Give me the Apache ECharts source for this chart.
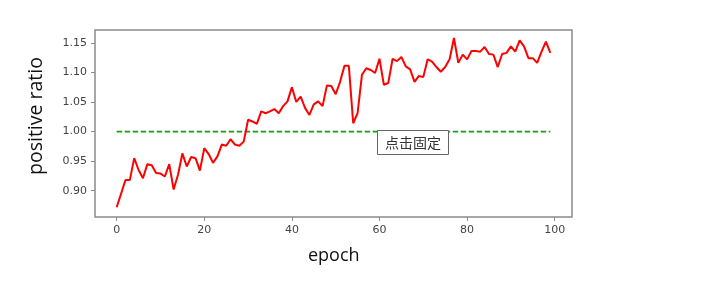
<!DOCTYPE html>
<html>
<head>
<meta charset="utf-8">
<script src="https://cdn.jsdelivr.net/npm/echarts@6/dist/echarts.min.js"></script>
<style>html,body{margin:0;padding:0;background:#fff;}#c{width:702px;height:284px;}</style>
</head>
<body>
<div id="c"></div>
<script>
const epochs = Array.from({length: 100}, (_, i) => i);
const positiveRatio = [
  0.872, 0.895, 0.918, 0.918, 0.955, 0.935, 0.921, 0.945, 0.943, 0.930,
  0.929, 0.924, 0.945, 0.902, 0.927, 0.963, 0.941, 0.957, 0.955, 0.934,
  0.972, 0.962, 0.947, 0.958, 0.978, 0.976, 0.987, 0.978, 0.976, 0.983,
  1.020, 1.017, 1.013, 1.034, 1.031, 1.034, 1.038, 1.031, 1.043, 1.051,
  1.075, 1.050, 1.059, 1.040, 1.028, 1.046, 1.051, 1.043, 1.078, 1.077,
  1.063, 1.084, 1.111, 1.111, 1.014, 1.031, 1.096, 1.107, 1.104, 1.099,
  1.123, 1.079, 1.082, 1.123, 1.119, 1.126, 1.110, 1.105, 1.084, 1.094,
  1.092, 1.122, 1.118, 1.109, 1.101, 1.109, 1.122, 1.158, 1.116, 1.130,
  1.122, 1.136, 1.136, 1.135, 1.143, 1.131, 1.130, 1.109, 1.131, 1.133,
  1.144, 1.135, 1.154, 1.144, 1.124, 1.124, 1.116, 1.135, 1.152, 1.133
];
const referenceLevel = 1.0;
const xTicks = [0, 20, 40, 60, 80, 100];
const yTicks = [0.90, 0.95, 1.00, 1.05, 1.10, 1.15];
const xLabel = 'epoch';
const yLabel = 'positive ratio';
const tipText = '点击固定';

const chart = echarts.init(document.getElementById('c'), null, {renderer: 'canvas'});
const frame = '#8a8a8a';
const tickFont = {color: '#444', fontSize: 11, fontFamily: 'DejaVu Sans'};
chart.setOption({
  animation: false,
  backgroundColor: '#fff',
  grid: {left: 95, right: 130, top: 30, bottom: 67, show: true, borderColor: frame, borderWidth: 1.5, backgroundColor: 'transparent'},
  xAxis: {
    type: 'value', min: -4.95, max: 103.95,
    axisLine: {show: false, onZero: false},
    splitLine: {show: false},
    axisTick: {show: true, customValues: xTicks, length: 4, lineStyle: {color: frame, width: 1}},
    axisLabel: Object.assign({customValues: xTicks, margin: 8, formatter: v => String(Math.round(v))}, tickFont)
  },
  yAxis: {
    type: 'value', min: 0.8556, max: 1.1716,
    axisLine: {show: false, onZero: false},
    splitLine: {show: false},
    axisTick: {show: true, customValues: yTicks, length: 4, lineStyle: {color: frame, width: 1}},
    axisLabel: Object.assign({customValues: yTicks, margin: 8, formatter: v => v.toFixed(2)}, tickFont)
  },
  series: [
    {
      type: 'line', name: 'ratio',
      data: epochs.map((e, i) => [e, positiveRatio[i]]),
      showSymbol: false, symbol: 'none',
      lineStyle: {color: '#ff0000', width: 2},
      z: 3
    },
    {
      type: 'line', name: 'ref',
      data: [[epochs[0], referenceLevel], [epochs[epochs.length - 1], referenceLevel]],
      showSymbol: false, symbol: 'none',
      lineStyle: {color: '#1f9a1f', width: 1.8, type: [5.5, 2.5]},
      z: 2
    }
  ],
  graphic: [
    {type: 'text', left: 308, top: 247, style: {text: xLabel, fontSize: 18, fontFamily: 'Open Sans', fill: '#111'}},
    {type: 'text', x: 36, y: 116, rotation: Math.PI / 2, style: {text: yLabel, fontSize: 19.5, fontFamily: 'Open Sans', fill: '#111', align: 'center', verticalAlign: 'middle'}},
    {type: 'rect', shape: {x: 377.5, y: 130.5, width: 71, height: 24}, style: {fill: '#fff', stroke: '#666', lineWidth: 1}, z: 10},
    {type: 'text', x: 413, y: 142.5, z: 11, style: {text: tipText, fontSize: 14, fontFamily: 'Noto Sans CJK SC', fill: '#333', align: 'center', verticalAlign: 'middle'}}
  ]
});
</script>
</body>
</html>
